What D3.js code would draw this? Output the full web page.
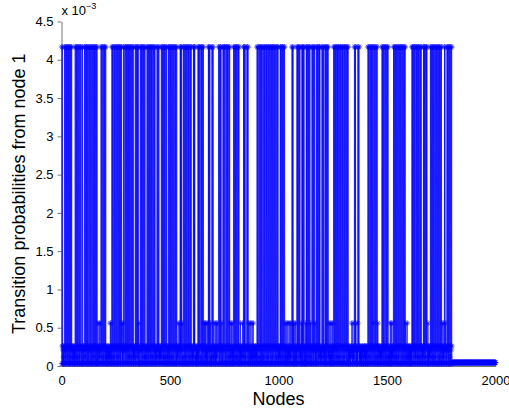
<!DOCTYPE html>
<html>
<head>
<meta charset="utf-8">
<script src="https://cdn.jsdelivr.net/npm/d3@7"></script>
<style>
  html, body { margin: 0; padding: 0; background: #fff; }
  svg { display: block; }
  text { font-family: "Liberation Sans", Arial, Helvetica, sans-serif; fill: #000; }
</style>
</head>
<body>
<svg id="chart" width="509" height="412"></svg>
<script>
// ---- data ----
const levelCodes  = ["H", "M", "a", "b", "c", "d", "z"];
const levelValues = [4.167e-3, 0.56e-3, 0.26e-3, 0.21e-3, 0.12e-3, 0.03e-3, 0.045e-3];

// one row = 100 consecutive nodes, coded per node with levelCodes
const nodeRows = [
  "HdaHdbdacd adbHdaHdbH daHdbHadHc dHadHbdHad HdaHdbHadc adbdacadbd adHdbHadHc dHadHbdHad cHdaHdbHad dbdHadHdba",
  "adbdcHadHb dHadHbdHad HdaHdbdaHd bHadHbdHda daHdbHadHc dHadHbdHad HdaHdbdMda adbMdacMbd dHadHbdHad cHdaHdbHad",
  "HdaHdbdacd adbdacadbd bdacMdbMda dHadHbdHad cHdaHdbHad dHadHbdHad cHdaHdbHad HdaHdbHaMd bdMdaHdbHa dbaHdaHdbH",
  "daHdbHadHc dHadHbdHad cHdaHdbHad HdadbcadbH daHdbHadHc HdaHdMadbd dbHadHbdHa dHadHbdHad cHdaHdbadc adbHdaHdbH",
  "daHdbHadHc dHadHbdHad cHdaHdbHad HdadbcadbH daHdbHadHc adbdacadbH daHdbHadHc dHadHbdHad cHdaHdbadc adHdbHadHc",
  "dHadHbdHad cHdaHdbHad dHadHbdHad HdadbcaMbd adbMdaHdHb HdaHdbMdcd dHadHbdHad cHdaHdbHad dHadHbdHad cHdaHdbHad",
  "adbdacaHdH dHaHdbadcd adbdacadHd HdaHdbHadc dHadHbdHad HdaHdbMadM bdMdacMdbd adMdbaHdHb HdaHdbMdcd adHdbHadHc",
  "dbMdacadMd adbMdacMbd dbaHdaHdbH daHdHbadMd adbHdaHdbH HdaHdbdaHd dHadHbdHad cHdaHdMbda dbMdacMdbd adHdbHadHc",
  "dHadHbdHad cHdaHdbHad adbdMdacbd adbMdacaHd HdaHdHbdac dbaHdaHdbH adMdbadMcd bdMdacadMd adbMdacadb dbadacadbd",
  "HdaHdbHadc dHadHbdHad HdaHdbdHad cHdaHdbHad dHadHbdHad cHdaHdbHad dHadHbdHad cHdaHdbHad dHadHbdHad cHdaHdbHad",
  "adbdacaHdH daHdbHadHc dHadHbdHad adMdbadMcd bdMdacadMd adbMdacMbd dHadHbHdMd adMdbadMcd adbdHaHdbH daHdbHadHc",
  "adbdMdaHdH dHadHbdHad adbdMdaHdH daHdbHadHc dHadHbdMda adbHdaHdbH daHdbHadMd adbHdaHdbH daHdbHadHc HdadbcadbH",
  "daHdbHadHc adbdHdaHdH daHdbHadHc adMdbadMcd bdMdacadMd adbHdaHdbH daHdbHadHc dHadHbdHad cHdaHdbHad dHadHbdHad",
  "cHdaHdbHad dHadHbdHad Hdadbcadbd adbdacaMbd bdMdacadbH daHdHbMdad adbdMHdHba Hdadbcadbd adbdacadbd dbadacadbd",
  "adbdacadbd dHadHbdHad cHdaHdbHad HdaHdbHMda dHadHbdHad cHdaHdbMda adbdacadbd adbdacHdHb dHadHbdHad adHdbHadHc",
  "dHadHbdadc adbdMdacMd bdMdacadbH daHdbHadHc dHadHbdHad cHdaHdbHad dHadHbdHad cHdaHdbHad HdaHdbMadc adMdbadcad",
  "bdadacadbd adbdHaHdbH daHdbHadHc adHdbHadHc dHadHbdHad cHdaHdbHad adbdacaHdH daHdbHadHc dHaHdbadMd adbdacadbH",
  "daHdbHadHc dHadHbdHad cHdaHdbHad dHadHbdHad cHdaHdbHad HdaMdbadMc adbdHaHdMb adbdaHdbHa dHadHbdHad cHdaHdbHad",
  "zzzzzzzzzz zzzzzzzzzz zzzzzzzzzz zzzzzzzzzz zzzzzzzzzz zzzzzzzzzz zzzzzzzzzz zzzzzzzzzz zzzzzzzzzz zzzzzzzzzz",
  "zzzzzzzzzz zzzzzzzzzz zzzzzzzzzz zzzzzzzzzz zzzzzzzzzz zzzzzzzzzz zzzzzzzzzz zzzzzzzzzz zzzzzzzzzz zzzzzzzzzz"
];

const xTickValues = [0, 500, 1000, 1500, 2000];
const yTickValues = [0, 0.5e-3, 1e-3, 1.5e-3, 2e-3, 2.5e-3, 3e-3, 3.5e-3, 4e-3, 4.5e-3];
const yExponent = -3;
const xLabel = "Nodes";
const yLabel = "Transition probabilities from node 1";

// ---- decode ----
const data = [];
nodeRows.forEach((row, r) => {
  const s = row.replace(/\s+/g, "");
  for (let j = 0; j < s.length; j++) {
    const k = levelCodes.indexOf(s[j]);
    if (k >= 0) data.push({ node: r * 100 + j + 1, value: levelValues[k] });
  }
});

// ---- layout ----
const svg = d3.select("#chart");
const x = d3.scaleLinear().domain([0, 2000]).range([61.5, 495.5]);
const y = d3.scaleLinear().domain([0, 4.5e-3]).range([366, 21.5]);
const blue = "#0000ff";
const axisColor = "#777";

// x axis
const gx = svg.append("g").attr("transform", `translate(0,${y(0)})`)
  .call(d3.axisBottom(x).tickValues(xTickValues).tickSizeInner(-4).tickSizeOuter(0).tickFormat(d3.format("d")));
gx.select(".domain").attr("stroke", axisColor);
gx.selectAll(".tick line").attr("stroke", axisColor);
gx.selectAll(".tick text").attr("y", 19).attr("dy", 0).attr("font-size", 13)
  .attr("font-family", '"Liberation Sans", Arial, sans-serif').attr("fill", "#000");

// y axis
const fmtY = v => d3.format("~g")(Math.round(v * Math.pow(10, -yExponent) * 10) / 10);
const gy = svg.append("g").attr("transform", `translate(${x(0)},0)`)
  .call(d3.axisLeft(y).tickValues(yTickValues).tickSizeInner(4).tickSizeOuter(0).tickPadding(4).tickFormat(fmtY));
gy.select(".domain").attr("stroke", axisColor);
gy.selectAll(".tick line").attr("stroke", axisColor);
gy.selectAll(".tick text").attr("font-size", 13)
  .attr("font-family", '"Liberation Sans", Arial, sans-serif').attr("fill", "#000");

// exponent label
const ex = svg.append("text").attr("x", x(0)).attr("y", 15).attr("font-size", 13);
ex.append("tspan").text("x 10");
ex.append("tspan").attr("dy", -6).attr("font-size", 9).text("\u2212" + Math.abs(yExponent));

// data line
const line = d3.line().x(d => x(d.node)).y(d => y(d.value));
svg.append("path").datum(data)
  .attr("d", line)
  .attr("fill", "none").attr("stroke", blue).attr("stroke-width", 0.6).attr("stroke-linejoin", "miter");

// asterisk markers
const r = 3, q = 2.1;
let mp = "";
data.forEach(d => {
  const cx = x(d.node), cy = y(d.value);
  mp += `M${cx - r},${cy}h${2 * r}M${cx},${cy - r}v${2 * r}` +
        `M${cx - q},${cy - q}l${2 * q},${2 * q}M${cx - q},${cy + q}l${2 * q},${-2 * q}`;
});
svg.append("path").attr("d", mp).attr("fill", "none").attr("stroke", blue).attr("stroke-width", 0.5);

// axis labels
svg.append("text").attr("x", (x(0) + x(2000)) / 2).attr("y", 405)
  .attr("text-anchor", "middle").attr("font-size", 18).text(xLabel);
svg.append("text").attr("transform", `translate(25,${(y(0) + y(4.5e-3)) / 2}) rotate(-90)`)
  .attr("text-anchor", "middle").attr("font-size", 18).text(yLabel);
</script>
</body>
</html>
